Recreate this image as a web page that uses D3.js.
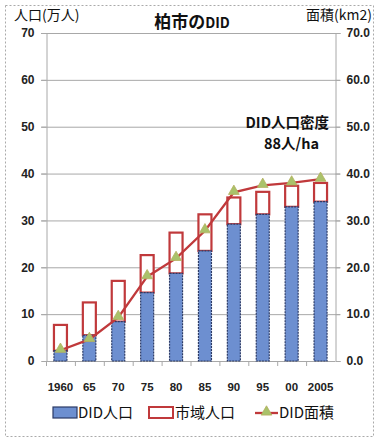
<!DOCTYPE html>
<html>
<head>
<meta charset="utf-8">
<script src="https://cdn.jsdelivr.net/npm/d3@7"></script>
<style>
  html, body { margin: 0; padding: 0; background: #fff; }
  svg { display: block; font-family: "Noto Sans CJK JP", "Noto Sans", sans-serif; }
</style>
</head>
<body>
<svg id="chart" width="379" height="439"></svg>
<script>
// Kashiwa city DID statistics
const years = ["1960", "65", "70", "75", "80", "85", "90", "95", "00", "2005"];
const didPop = [2.2, 5.5, 8.4, 14.6, 18.7, 23.5, 29.2, 31.3, 32.9, 34.0];    // 万人
const cityPop = [7.7, 12.5, 17.1, 22.6, 27.4, 31.3, 34.9, 36.1, 37.4, 38.0]; // 万人
const didArea = [2.3, 4.6, 9.3, 18.0, 21.9, 27.8, 36.0, 37.5, 38.0, 38.8];  // km2
const leftTicks = [0, 10, 20, 30, 40, 50, 60, 70];
const rightTicks = [0, 10, 20, 30, 40, 50, 60, 70];

const svg = d3.select("#chart");
const W = 379, H = 439;
const m = { left: 46, right: 335, top: 33, bottom: 361 };

// frame
svg.append("rect")
  .attr("x", 5.5).attr("y", 5.5).attr("width", W - 11).attr("height", H - 8)
  .attr("fill", "none").attr("stroke", "#aaa").attr("stroke-dasharray", "2,2");

const x = d3.scaleBand().domain(years).range([m.left, m.right]).paddingInner(0.55).paddingOuter(0.275);
const xb = d3.scaleBand().domain(years).range([m.left, m.right]);
const yL = d3.scaleLinear().domain([0, 70]).range([m.bottom, m.top]);
const yR = d3.scaleLinear().domain([0, 70]).range([m.bottom, m.top]);

// gridlines
svg.append("g").selectAll("line").data(leftTicks.filter(d => d > 0)).join("line")
  .attr("x1", m.left - 5).attr("x2", m.right + 5)
  .attr("y1", d => yL(d) + 0.5).attr("y2", d => yL(d) + 0.5)
  .attr("stroke", "#a8a8a8").attr("stroke-width", 1);

// left axis
const gl = svg.append("g").attr("transform", `translate(${m.left + 0.5},0)`)
  .call(d3.axisLeft(yL).tickValues(leftTicks).tickSize(5).tickFormat(d3.format("d")));
gl.select(".domain").attr("stroke", "#a8a8a8");
gl.selectAll(".tick line").attr("stroke", "#a8a8a8");
gl.selectAll("text").attr("font-size", 12).attr("font-weight", "bold").attr("fill", "#222")
  .attr("font-family", "Liberation Sans, Arial, sans-serif").attr("x", -12);

// right axis
const gr = svg.append("g").attr("transform", `translate(${m.right + 0.5},0)`)
  .call(d3.axisRight(yR).tickValues(rightTicks).tickSize(5).tickFormat(d3.format(".1f")));
gr.select(".domain").attr("stroke", "#a8a8a8");
gr.selectAll(".tick line").attr("stroke", "#a8a8a8");
gr.selectAll("text").attr("font-size", 12).attr("font-weight", "bold").attr("fill", "#222")
  .attr("font-family", "Liberation Sans, Arial, sans-serif").attr("x", 11);

// bottom axis
svg.append("line").attr("x1", m.left).attr("x2", m.right)
  .attr("y1", m.bottom + 0.5).attr("y2", m.bottom + 0.5).attr("stroke", "#a8a8a8");
svg.append("g").selectAll("line").data(years).join("line")
  .attr("x1", d => xb(d) + 0.5).attr("x2", d => xb(d) + 0.5)
  .attr("y1", m.bottom).attr("y2", m.bottom + 5).attr("stroke", "#a8a8a8");
svg.append("g").selectAll("text").data(years).join("text")
  .attr("x", d => xb(d) + xb.bandwidth() / 2).attr("y", 391)
  .attr("text-anchor", "middle").attr("font-size", 11.5).attr("font-weight", "bold")
  .attr("font-family", "Liberation Sans, Arial, sans-serif").attr("fill", "#222")
  .text(d => d);

// city population (upper outlined segment)
svg.append("g").selectAll("rect").data(years).join("rect")
  .attr("x", d => x(d)).attr("width", x.bandwidth())
  .attr("y", (d, i) => yL(cityPop[i]))
  .attr("height", (d, i) => yL(didPop[i]) - yL(cityPop[i]))
  .attr("fill", "#fff").attr("stroke", "#c0393b").attr("stroke-width", 2.2);

// DID population bars
svg.append("g").selectAll("rect").data(years).join("rect")
  .attr("x", d => x(d)).attr("width", x.bandwidth())
  .attr("y", (d, i) => yL(didPop[i]))
  .attr("height", (d, i) => yL(0) - yL(didPop[i]))
  .attr("fill", "#6d8fd0").attr("stroke", "#2b3a66").attr("stroke-width", 1.2)
  .attr("stroke-dasharray", "2,1");

// DID area line
const line = d3.line().x((d, i) => xb(years[i]) + xb.bandwidth() / 2).y(d => yR(d));
svg.append("path").datum(didArea).attr("d", line)
  .attr("fill", "none").attr("stroke", "#c0393b").attr("stroke-width", 2.3);
const tri = d3.symbol().type(d3.symbolTriangle).size(50);
svg.append("g").selectAll("path").data(didArea).join("path")
  .attr("transform", (d, i) => `translate(${xb(years[i]) + xb.bandwidth() / 2},${yR(d) - 1})`)
  .attr("d", tri).attr("fill", "#a9c26a").attr("stroke", "#b5b060").attr("stroke-width", 0.8);

// titles
const title = svg.append("text").attr("x", 192).attr("y", 28).attr("text-anchor", "middle")
  .attr("font-weight", "bold").attr("fill", "#111");
title.append("tspan").attr("font-size", 17).text("柏市の");
title.append("tspan").attr("font-size", 14).text("DID");
svg.append("text").attr("x", 14).attr("y", 20)
  .attr("font-size", 14).attr("fill", "#111").text("人口(万人)");
svg.append("text").attr("x", 372).attr("y", 20).attr("text-anchor", "end")
  .attr("font-size", 14).attr("fill", "#111").text("面積(km2)");

// density annotation
svg.append("text").attr("x", 329).attr("y", 128).attr("text-anchor", "end")
  .attr("font-size", 14.5).attr("font-weight", "bold").attr("fill", "#111").text("DID人口密度");
svg.append("text").attr("x", 319).attr("y", 149).attr("text-anchor", "end")
  .attr("font-size", 14.5).attr("font-weight", "bold").attr("fill", "#111").text("88人/ha");

// legend
const lg = svg.append("g");
lg.append("rect").attr("x", 53).attr("y", 407).attr("width", 24).attr("height", 11)
  .attr("fill", "#6d8fd0").attr("stroke", "#2b3a66").attr("stroke-width", 1.2);
lg.append("text").attr("x", 78).attr("y", 418).attr("font-size", 15).attr("fill", "#111").text("DID人口");
lg.append("rect").attr("x", 149).attr("y", 407).attr("width", 24).attr("height", 11)
  .attr("fill", "#fff").attr("stroke", "#c0393b").attr("stroke-width", 2);
lg.append("text").attr("x", 175).attr("y", 418).attr("font-size", 15).attr("fill", "#111").text("市域人口");
lg.append("line").attr("x1", 255).attr("x2", 278).attr("y1", 413).attr("y2", 413)
  .attr("stroke", "#c0393b").attr("stroke-width", 2.3);
lg.append("path").attr("transform", "translate(266.5,412)").attr("d", tri)
  .attr("fill", "#a9c26a").attr("stroke", "#b5b060").attr("stroke-width", 0.8);
lg.append("text").attr("x", 279).attr("y", 418).attr("font-size", 15).attr("fill", "#111").text("DID面積");
</script>
</body>
</html>
